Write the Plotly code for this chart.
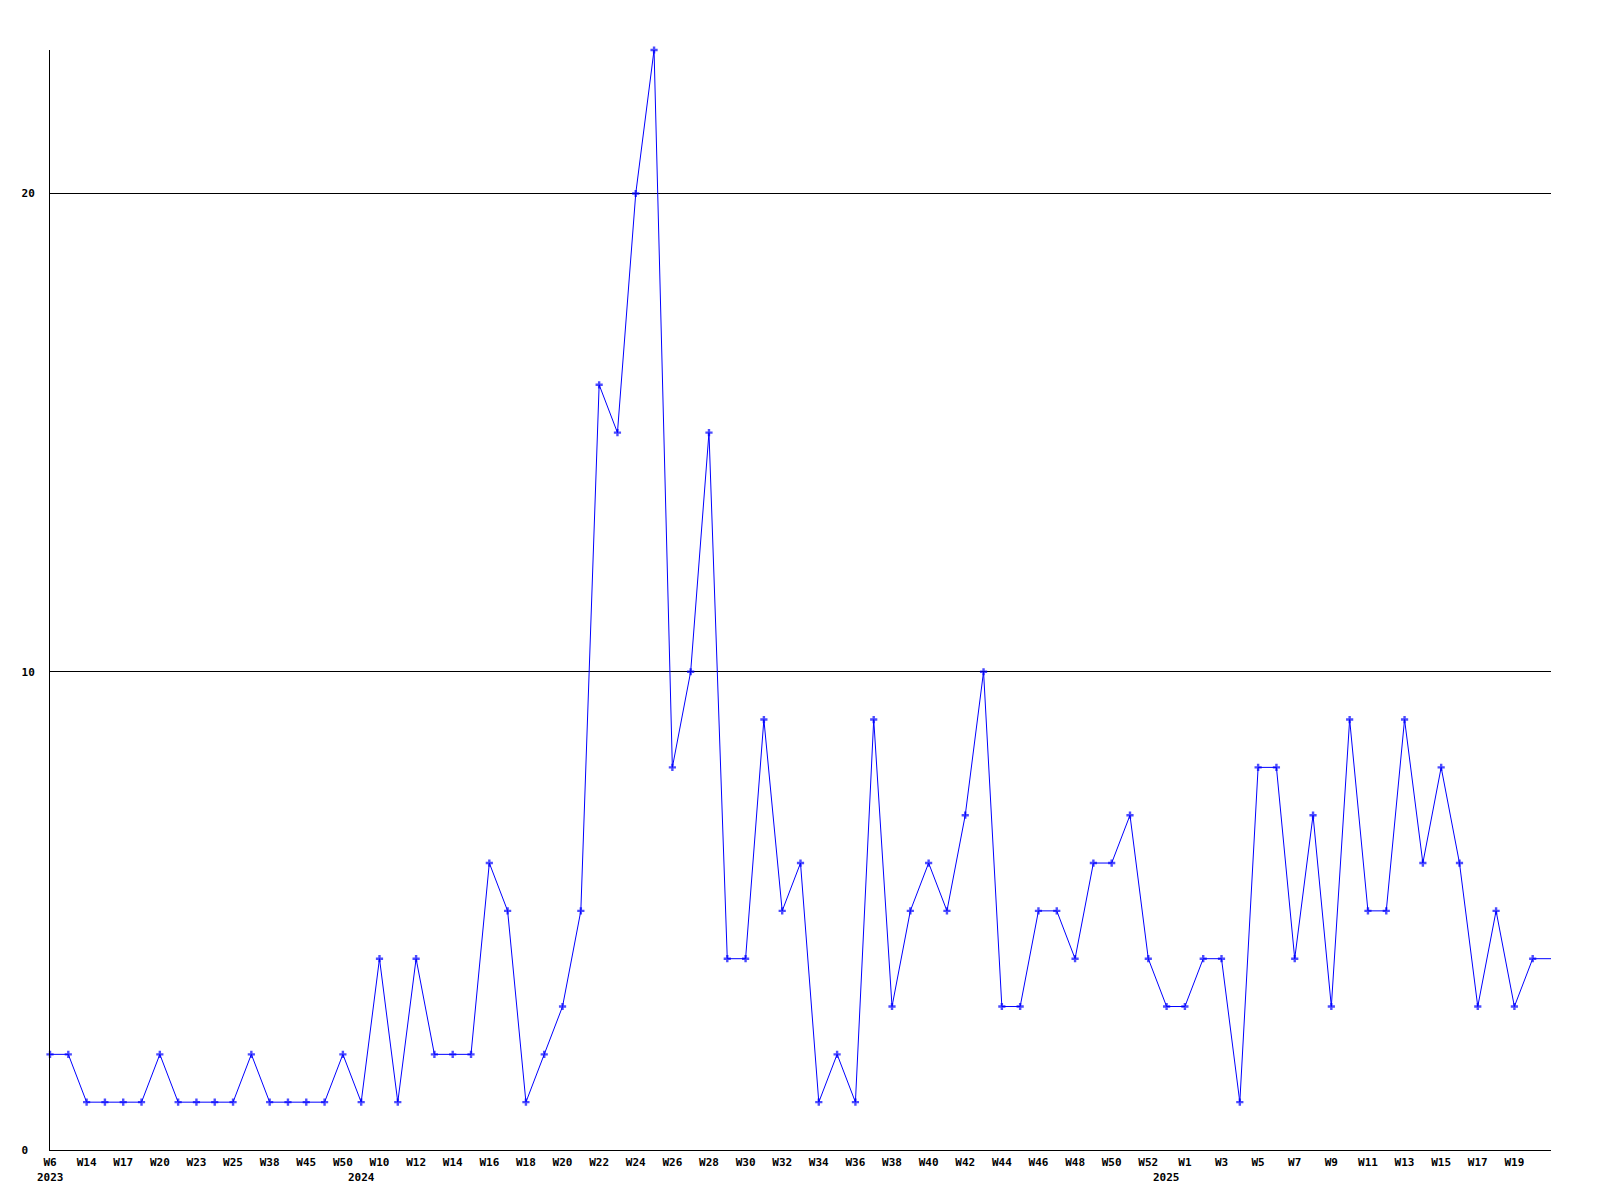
import plotly.graph_objects as go

# Week categories (year, week); only every other one is labelled on the axis
years = [2023]*17 + [2024]*44 + [2025]*22
weeks = ([6, 10, 14, 15, 17, 18, 20, 21, 23, 24, 25, 30, 38, 42, 45, 47, 50]
         + [9] + list(range(10, 53))
         + [0] + list(range(1, 22)))
categories = [f"{y}-W{w:02d}" for y, w in zip(years, weeks)]

values = [2, 2, 1, 1, 1, 1, 2, 1, 1, 1, 1, 2, 1, 1, 1, 1, 2, 1, 4, 1,
          4, 2, 2, 2, 6, 5, 1, 2, 3, 5, 16, 15, 20, 23, 8, 10, 15, 4, 4, 9,
          5, 6, 1, 2, 1, 9, 3, 5, 6, 5, 7, 10, 3, 3, 5, 5, 4, 6, 6, 7,
          4, 3, 3, 4, 4, 1, 8, 8, 4, 7, 3, 9, 5, 5, 9, 6, 8, 6, 3, 5,
          3, 4, 4]

# last week is still in progress: line drawn, no marker, no label
marker_sizes = [6]*(len(values)-1) + [0]

tickvals = categories[:-1:2]
ticktext = [f"W{w}" for w in weeks[:-1:2]]

year_labels = ["2023", "2024", "2025"]
year_starts = [categories[years.index(int(y))] for y in year_labels]

font = dict(family="DejaVu Sans Mono", size=11, color="black")

fig = go.Figure()
fig.add_trace(go.Scatter(
    x=categories, y=values, mode="lines+markers",
    line=dict(color="#0000ff", width=1),
    marker=dict(symbol="cross", size=marker_sizes, color="#0000ff",
                line=dict(width=0)),
    cliponaxis=False,
    hoverinfo="x+y", showlegend=False,
))

for lab, cat in zip(year_labels, year_starts):
    fig.add_annotation(x=cat, xref="x", y=-27/1100, yref="paper",
                       text=f"<b>{lab}</b>", showarrow=False,
                       yanchor="middle", xanchor="center", font=font)

fig.update_layout(
    width=1592, height=1192,
    margin=dict(l=42, r=49, t=42, b=50),
    paper_bgcolor="white", plot_bgcolor="white",
    font=font,
)
fig.update_xaxes(
    type="category", range=[0, len(categories)-1],
    tickmode="array", tickvals=tickvals,
    ticktext=[f"<b>{t}</b>" for t in ticktext],
    showgrid=False, zeroline=False,
    showline=True, linecolor="black", linewidth=1,
    ticks="", ticklabelstandoff=2, tickangle=0, tickfont=font,
)
fig.update_yaxes(
    range=[0, 23], tickmode="array", tickvals=[0, 10, 20],
    ticktext=["<b>0\u00a0</b>", "<b>10</b>", "<b>20</b>"],
    showgrid=True, gridcolor="black", gridwidth=1, zeroline=False,
    showline=True, linecolor="black", linewidth=1,
    ticks="", ticklabelstandoff=12, tickfont=font,
)

fig.write_html("out.html")
